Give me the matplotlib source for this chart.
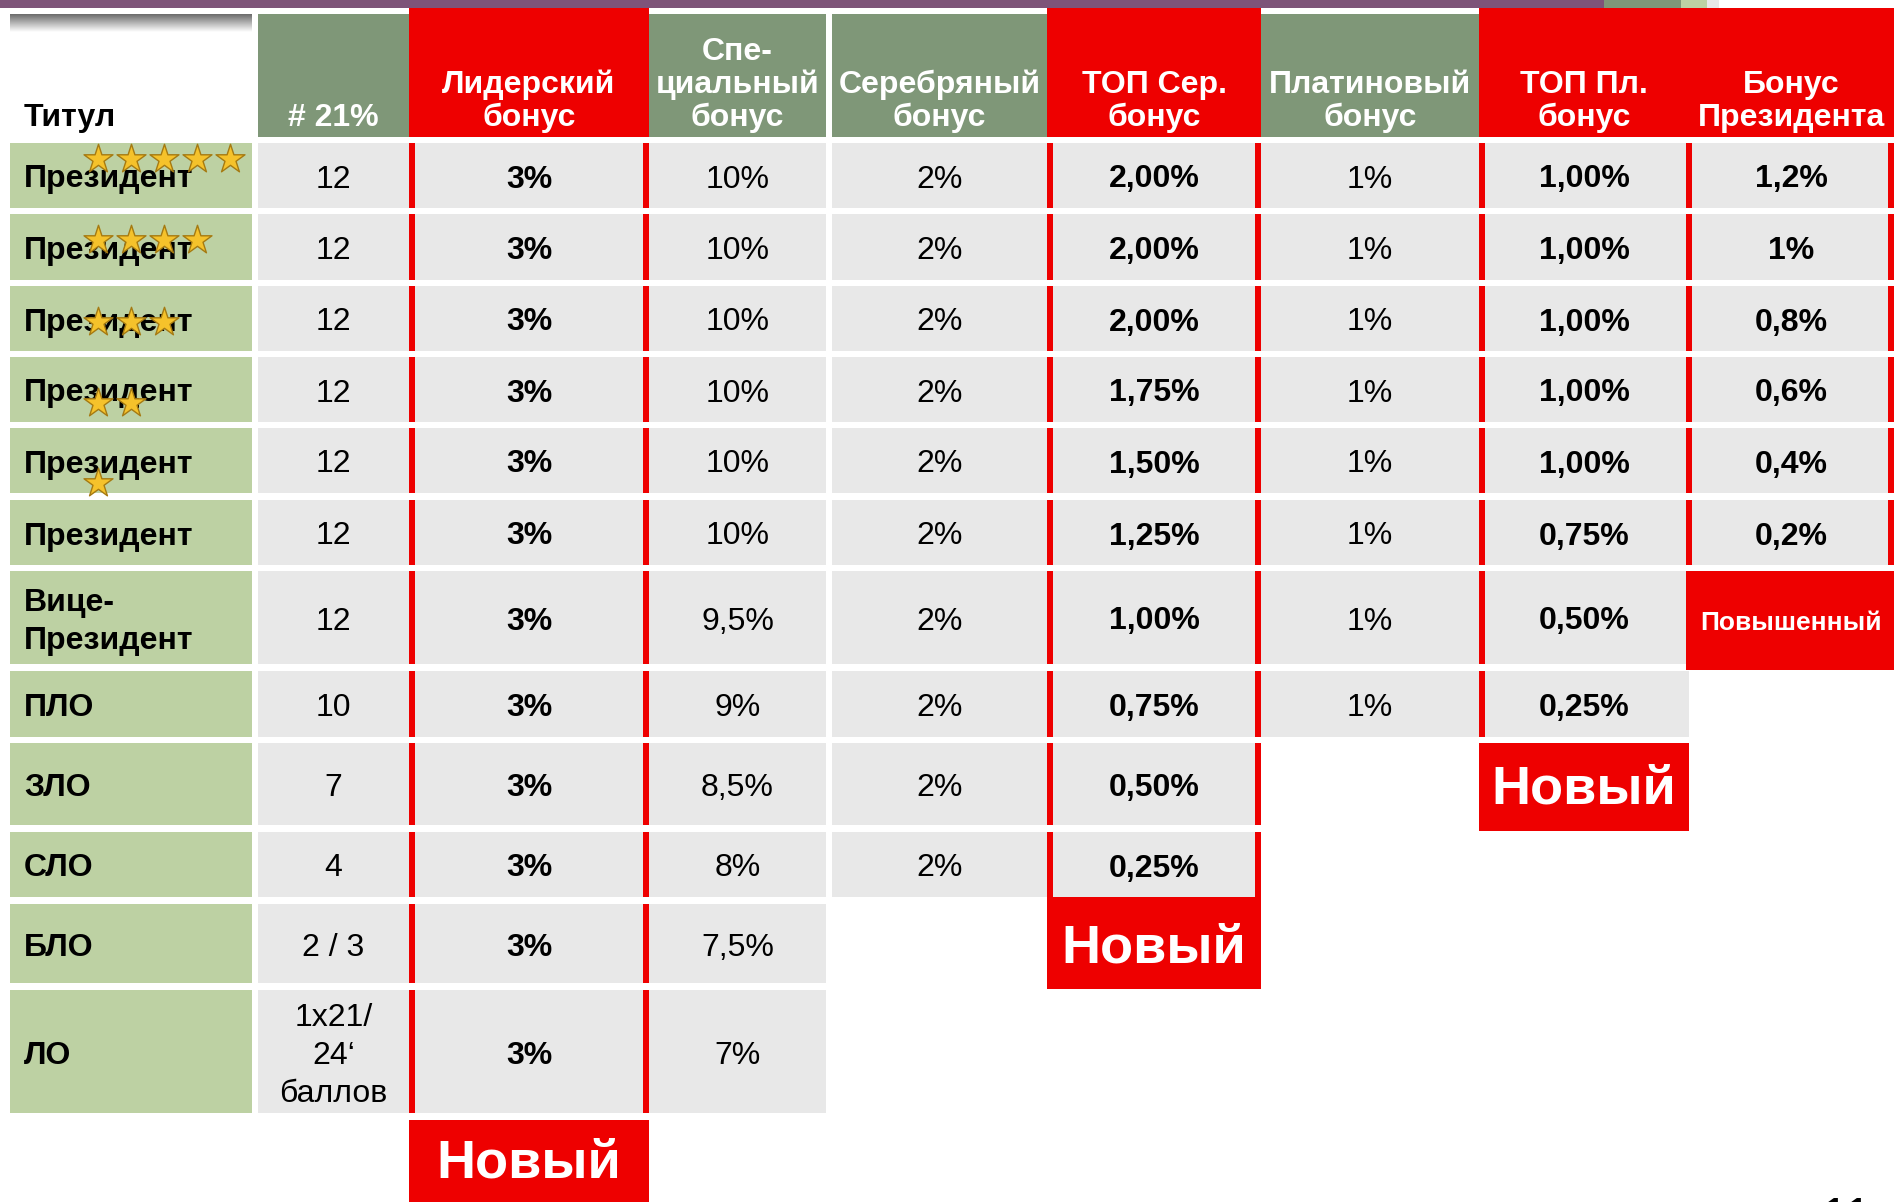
import matplotlib
matplotlib.use("Agg")
import matplotlib.pyplot as plt
from matplotlib.patches import Rectangle
import numpy as np

plt.rcParams['font.family'] = ['Liberation Sans', 'DejaVu Sans']

# --- данные таблицы ---
headers = ["Титул", "# 21%", "Лидерский\nбонус", "Спе-\nциальный\nбонус",
           "Серебряный\nбонус", "ТОП Сер.\nбонус", "Платиновый\nбонус",
           "ТОП Пл.\nбонус", "Бонус\nПрезидента"]
titles = ["Президент"] * 6 + ["Вице-\nПрезидент", "ПЛО", "ЗЛО", "СЛО", "БЛО", "ЛО"]
stars = [5, 4, 3, 2, 1, 0]
qual_21 = ["12"] * 7 + ["10", "7", "4", "2 / 3", "1x21/\n24‘\nбаллов"]
leader = ["3%"] * 12
special = ["10%"] * 6 + ["9,5%", "9%", "8,5%", "8%", "7,5%", "7%"]
silver = ["2%"] * 10
top_silver = ["2,00%", "2,00%", "2,00%", "1,75%", "1,50%", "1,25%",
              "1,00%", "0,75%", "0,50%", "0,25%"]
platinum = ["1%"] * 8
top_platinum = ["1,00%"] * 5 + ["0,75%", "0,50%", "0,25%"]
president = ["1,2%", "1%", "0,8%", "0,6%", "0,4%", "0,2%"]
badges = {2: "Новый", 5: "Новый", 7: "Новый", 8: "Повышенный"}
red_cols = [2, 5, 7, 8]
page_no = "11"

columns = [titles, qual_21, leader, special, silver, top_silver,
           platinum, top_platinum, president]

# --- раскладка (пиксели) ---
W, H = 1894, 1202
col_x0 = [10, 258, 409, 649, 832, 1047, 1261, 1479, 1689]
col_x1 = [252, 409, 649, 826, 1047, 1261, 1479, 1689, 1894]
row_y0 = [143, 214, 286, 357, 428, 500, 571, 671, 743, 832, 904, 990, 1120]
row_y1 = [208, 280, 351, 422, 493, 565, 664, 737, 825, 897, 983, 1113, 1210]
star_dy = [-17, -7, 3, 13, 22]
bar_w = 6

RED = '#EE0000'
GREEN_HEAD = '#7F9778'
GREEN_TITLE = '#BDD1A3'
GRAY = '#E8E8E8'
PURPLE = '#7E5479'

fig = plt.figure(figsize=(W / 100, H / 100), dpi=100)
ax = fig.add_axes([0, 0, 1, 1])
ax.set_xlim(0, W)
ax.set_ylim(H, 0)
ax.axis('off')


def rect(x0, y0, x1, y1, color):
    ax.add_patch(Rectangle((x0, y0), x1 - x0, y1 - y0, facecolor=color,
                           edgecolor='none', linewidth=0))


# полоса сверху
rect(0, 0, 1604, 8, PURPLE)
rect(1604, 0, 1681, 8, GREEN_HEAD)
rect(1681, 0, 1707, 8, GREEN_TITLE)
rect(1707, 0, 1719, 8, GRAY)

# серый градиент над "Титул"
grad = np.linspace(0.42, 1.0, 50).reshape(-1, 1)
ax.imshow(grad, extent=(10, 252, 32, 14), cmap='gray', vmin=0, vmax=1,
          aspect='auto', interpolation='bilinear')

# заголовки
for j, h in enumerate(headers):
    cx = (col_x0[j] + col_x1[j]) / 2
    if j == 0:
        ax.text(24, 126, h, ha='left', va='baseline', fontsize=23,
                fontweight='bold', color='black')
        continue
    top = 8 if j in red_cols else 14
    rect(col_x0[j], top, col_x1[j], 137, RED if j in red_cols else GREEN_HEAD)
    for k, line in enumerate(reversed(h.split('\n'))):
        ax.text(cx, 126 - k * 33, line, ha='center', va='baseline',
                fontsize=23, fontweight='bold', color='white')


def cell_text(x, yc, s, bold, ha='center'):
    lines = s.split('\n')
    n = len(lines)
    for k, line in enumerate(lines):
        ax.text(x, yc + (k - (n - 1) / 2) * 38 + 4, line, ha=ha, va='center',
                fontsize=23, fontweight='bold' if bold else 'normal',
                color='black')


# ячейки
for j, vals in enumerate(columns):
    x0, x1 = col_x0[j], col_x1[j]
    red = j in red_cols
    for i, v in enumerate(vals):
        y0, y1 = row_y0[i], row_y1[i]
        yc = (y0 + y1) / 2
        if j == 0:
            rect(x0, y0, x1, y1, GREEN_TITLE)
            cell_text(24, yc, v, True, ha='left')
            continue
        rect(x0, y0, x1, y1, GRAY)
        if red:
            if (j - 1) in red_cols:
                rect(x0 - bar_w / 2, y0, x0 + bar_w / 2, y1, RED)
            else:
                rect(x0, y0, x0 + bar_w, y1, RED)
            if (j + 1) not in red_cols:
                rect(x1 - bar_w, y0, x1, y1, RED)
        cell_text((x0 + x1) / 2, yc, v, red)

# плашки "Новый" / "Повышенный"
for j, label in badges.items():
    i = len(columns[j])
    y0 = row_y1[i - 1] if j == 5 else row_y0[i]
    y1 = row_y0[i + 1] - 1 if i + 1 < len(row_y0) else H + 10
    x0 = col_x0[j] - (bar_w / 2 if (j - 1) in red_cols else 0)
    rect(x0, y0, col_x1[j], y1, RED)
    yc = (row_y0[i] + min(y1, H)) / 2
    big = label == "Новый"
    ax.text((col_x0[j] + col_x1[j]) / 2, yc + 2, label, ha='center',
            va='center', fontsize=39 if big else 19, fontweight='bold',
            color='white')

# звёзды у титулов "Президент"
for i, n in enumerate(stars):
    if n == 0:
        continue
    yc = (row_y0[i] + row_y1[i]) / 2 + star_dy[i]
    xs = 98 + 33 * np.arange(n)
    ax.scatter(xs, [yc] * n, marker='*', s=480, facecolor='#F5C22B',
               edgecolor='#A57A12', linewidth=1.0, zorder=5)

# номер слайда (в оригинале обрезан нижним краем)
ax.text(1846, 1233, page_no, ha='center', va='baseline', fontsize=36,
        color='black')

fig.savefig('out.png', dpi=100)
